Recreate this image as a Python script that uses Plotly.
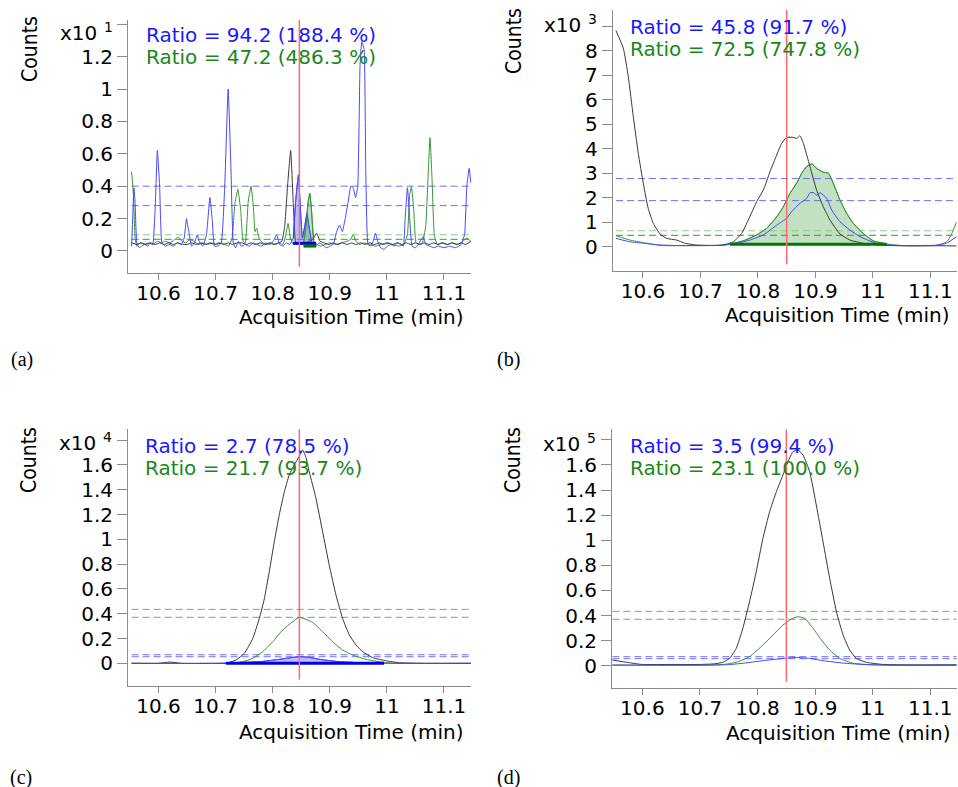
import plotly.graph_objects as go

W, H = 958, 787

# ---------------- data (time in min, counts in the panel's x10^n units) ----------------
# (a)  x10^1
a_black = [(10.553, 0.05), (10.562, 0.04), (10.570, 0.05), (10.578, 0.04), (10.586, 0.05), (10.594, 0.04),
           (10.602, 0.05), (10.610, 0.04), (10.618, 0.05), (10.626, 0.04), (10.634, 0.05), (10.642, 0.04),
           (10.650, 0.04), (10.658, 0.05), (10.666, 0.04), (10.674, 0.05), (10.682, 0.04), (10.690, 0.05),
           (10.698, 0.04), (10.706, 0.05), (10.714, 0.04), (10.722, 0.05), (10.730, 0.04), (10.738, 0.05),
           (10.746, 0.05), (10.754, 0.04), (10.762, 0.05), (10.770, 0.04), (10.778, 0.05), (10.786, 0.04),
           (10.794, 0.05), (10.802, 0.04), (10.810, 0.05), (10.816, 0.06), (10.821, 0.15), (10.826, 0.40),
           (10.8315, 0.62), (10.836, 0.30), (10.840, 0.06), (10.846, 0.04), (10.852, 0.05), (10.858, 0.05),
           (10.864, 0.06), (10.870, 0.07), (10.877, 0.11), (10.883, 0.06), (10.890, 0.05), (10.898, 0.04),
           (10.906, 0.05), (10.914, 0.04), (10.922, 0.05), (10.930, 0.04), (10.938, 0.05), (10.946, 0.04),
           (10.954, 0.05), (10.962, 0.04), (10.970, 0.05), (10.978, 0.04), (10.986, 0.05), (10.994, 0.04),
           (11.002, 0.05), (11.010, 0.04), (11.018, 0.05), (11.026, 0.04), (11.034, 0.05), (11.042, 0.04),
           (11.050, 0.05), (11.058, 0.04), (11.066, 0.05), (11.074, 0.04), (11.082, 0.05), (11.090, 0.04),
           (11.098, 0.05), (11.106, 0.04), (11.114, 0.05), (11.122, 0.04), (11.130, 0.05), (11.138, 0.04),
           (11.147, 0.06)]
a_blue = [(10.553, 0.03), (10.555, 0.22), (10.557, 0.39), (10.559, 0.30), (10.562, 0.05), (10.566, 0.02),
          (10.571, 0.03), (10.576, 0.04), (10.581, 0.03), (10.586, 0.05), (10.590, 0.04), (10.594, 0.25),
          (10.598, 0.62), (10.602, 0.40), (10.606, 0.05), (10.612, 0.03), (10.619, 0.04), (10.626, 0.03),
          (10.633, 0.05), (10.640, 0.04), (10.645, 0.08), (10.649, 0.20), (10.653, 0.12), (10.658, 0.03),
          (10.663, 0.05), (10.668, 0.10), (10.672, 0.05), (10.678, 0.03), (10.684, 0.10), (10.690, 0.33),
          (10.694, 0.20), (10.698, 0.03), (10.704, 0.03), (10.710, 0.05), (10.716, 0.40), (10.722, 1.00),
          (10.727, 0.50), (10.731, 0.05), (10.735, 0.02), (10.740, 0.06), (10.745, 0.03), (10.752, 0.04),
          (10.759, 0.03), (10.766, 0.05), (10.773, 0.04), (10.780, 0.03), (10.788, 0.05), (10.795, 0.04),
          (10.801, 0.06), (10.807, 0.10), (10.812, 0.04), (10.818, 0.03), (10.824, 0.05), (10.830, 0.04),
          (10.836, 0.08), (10.840, 0.30), (10.845, 0.47), (10.848, 0.30), (10.852, 0.08), (10.856, 0.15),
          (10.860, 0.23), (10.864, 0.14), (10.869, 0.05), (10.875, 0.03), (10.881, 0.05), (10.887, 0.04),
          (10.894, 0.02), (10.901, 0.03), (10.907, 0.05), (10.912, 0.12), (10.917, 0.16), (10.922, 0.12),
          (10.927, 0.20), (10.932, 0.30), (10.937, 0.40), (10.941, 0.39), (10.945, 0.33), (10.949, 0.40),
          (10.953, 1.15), (10.956, 1.29), (10.960, 1.25), (10.963, 0.50), (10.967, 0.04), (10.972, 0.03),
          (10.976, 0.06), (10.980, 0.11), (10.984, 0.06), (10.989, 0.02), (10.995, 0.01), (11.001, 0.03),
          (11.007, 0.04), (11.013, 0.03), (11.019, 0.05), (11.025, 0.04), (11.029, 0.03), (11.032, 0.20),
          (11.036, 0.39), (11.040, 0.20), (11.044, 0.03), (11.050, 0.02), (11.055, 0.04), (11.060, 0.07),
          (11.064, 0.09), (11.068, 0.04), (11.075, 0.03), (11.082, 0.02), (11.090, 0.03), (11.100, 0.02),
          (11.110, 0.03), (11.120, 0.02), (11.130, 0.04), (11.136, 0.10), (11.140, 0.40), (11.144, 0.51),
          (11.147, 0.42)]
a_green = [(10.553, 0.49), (10.556, 0.35), (10.559, 0.08), (10.562, 0.03), (10.568, 0.05), (10.575, 0.04),
           (10.582, 0.05), (10.590, 0.04), (10.598, 0.06), (10.605, 0.05), (10.612, 0.06), (10.620, 0.05),
           (10.628, 0.07), (10.635, 0.085), (10.641, 0.06), (10.648, 0.05), (10.655, 0.07), (10.662, 0.06),
           (10.670, 0.04), (10.678, 0.05), (10.686, 0.04), (10.694, 0.05), (10.702, 0.04), (10.710, 0.05),
           (10.717, 0.04), (10.723, 0.03), (10.729, 0.08), (10.734, 0.30), (10.739, 0.38), (10.744, 0.25),
           (10.748, 0.06), (10.752, 0.05), (10.757, 0.30), (10.762, 0.40), (10.766, 0.28), (10.769, 0.12),
           (10.772, 0.14), (10.776, 0.08), (10.782, 0.05), (10.790, 0.04), (10.798, 0.05), (10.805, 0.04),
           (10.812, 0.05), (10.818, 0.04), (10.823, 0.10), (10.827, 0.17), (10.831, 0.08), (10.836, 0.04),
           (10.842, 0.05), (10.848, 0.04), (10.854, 0.05), (10.858, 0.15), (10.862, 0.30), (10.865, 0.356),
           (10.868, 0.25), (10.872, 0.06), (10.877, 0.04), (10.884, 0.03), (10.892, 0.04), (10.900, 0.05),
           (10.910, 0.04), (10.920, 0.05), (10.930, 0.06), (10.936, 0.07), (10.941, 0.10), (10.946, 0.06),
           (10.952, 0.04), (10.960, 0.05), (10.970, 0.04), (10.980, 0.03), (10.990, 0.04), (11.000, 0.05),
           (11.010, 0.04), (11.020, 0.03), (11.030, 0.04), (11.036, 0.10), (11.040, 0.35), (11.043, 0.397),
           (11.047, 0.25), (11.051, 0.05), (11.056, 0.04), (11.062, 0.05), (11.068, 0.15), (11.072, 0.45),
           (11.0755, 0.70), (11.079, 0.45), (11.083, 0.10), (11.088, 0.04), (11.095, 0.05), (11.105, 0.04),
           (11.115, 0.05), (11.125, 0.04), (11.133, 0.06), (11.140, 0.08), (11.147, 0.06)]

# (b)  x10^3
b_black = [(10.553, 8.82), (10.5657, 8.10), (10.5744, 6.94), (10.5831, 5.31), (10.5918, 3.81), (10.6005, 2.59),
           (10.609, 1.57), (10.618, 0.95), (10.6296, 0.52), (10.641, 0.34), (10.6586, 0.27), (10.673, 0.14),
           (10.6934, 0.07), (10.717, 0.05), (10.7397, 0.07), (10.7571, 0.20), (10.7717, 0.54), (10.7832, 1.09),
           (10.7978, 1.84), (10.8093, 2.31), (10.821, 3.06), (10.8326, 3.74), (10.8413, 4.22), (10.850, 4.46),
           (10.8615, 4.46), (10.8674, 4.42), (10.8731, 4.53), (10.879, 4.22), (10.8905, 3.27), (10.902, 2.31),
           (10.9137, 1.63), (10.9253, 1.09), (10.9427, 0.52), (10.960, 0.27), (10.9833, 0.14), (11.0066, 0.07),
           (11.04, 0.04), (11.07, 0.03), (11.10, 0.04), (11.1458, 0.03)]
b_blue = [(10.553, 0.34), (10.5774, 0.20), (10.6005, 0.14), (10.6296, 0.07), (10.66, 0.05), (10.70, 0.05),
          (10.74, 0.06), (10.763, 0.14), (10.7861, 0.27), (10.8093, 0.48), (10.8326, 0.88), (10.850, 1.16),
          (10.8587, 1.43), (10.8731, 1.77), (10.8848, 1.97), (10.8905, 2.20), (10.8975, 2.20), (10.902, 2.10),
          (10.908, 2.20), (10.9196, 1.97), (10.9283, 1.50), (10.9427, 1.02), (10.960, 0.68), (10.9775, 0.41),
          (10.995, 0.23), (11.012, 0.10), (11.05, 0.05), (11.09, 0.05), (11.11, 0.06), (11.128, 0.14),
          (11.1458, 0.41)]
b_green = [(10.553, 0.45), (10.5774, 0.27), (10.6005, 0.17), (10.6296, 0.05), (10.66, 0.04), (10.70, 0.04),
           (10.73, 0.05), (10.7517, 0.11), (10.7745, 0.24), (10.7978, 0.48), (10.8152, 0.75), (10.8326, 1.22),
           (10.8441, 1.63), (10.8557, 2.18), (10.8674, 2.59), (10.8761, 3.00), (10.8848, 3.27), (10.8935, 3.38),
           (10.902, 3.20), (10.9137, 3.04), (10.9224, 3.00), (10.931, 2.59), (10.9427, 1.91), (10.9544, 1.36),
           (10.966, 0.95), (10.9833, 0.54), (11.0007, 0.24), (11.024, 0.11), (11.047, 0.05), (11.08, 0.04),
           (11.11, 0.05), (11.1284, 0.20), (11.137, 0.52), (11.1458, 1.02)]

# (c)  x10^4
c_black = [(10.553, 0.0), (10.60, 0.0), (10.62, 0.01), (10.64, 0.0), (10.70, 0.0), (10.718, 0.0),
           (10.7357, 0.027), (10.7503, 0.08), (10.765, 0.20), (10.7765, 0.36), (10.7853, 0.52), (10.794, 0.74),
           (10.8028, 0.98), (10.8116, 1.20), (10.8203, 1.38), (10.829, 1.52), (10.8378, 1.60), (10.8466, 1.67),
           (10.8525, 1.72), (10.8583, 1.66), (10.864, 1.545), (10.8758, 1.33), (10.8875, 1.06), (10.8991, 0.79),
           (10.9109, 0.55), (10.9226, 0.36), (10.9341, 0.23), (10.9459, 0.148), (10.9576, 0.094), (10.975, 0.046),
           (10.999, 0.02), (11.022, 0.005), (11.06, 0.0), (11.147, 0.0)]
c_blue = [(10.553, 0.0), (10.70, 0.0), (10.718, 0.003), (10.7765, 0.013), (10.8116, 0.032), (10.8466, 0.054),
          (10.864, 0.048), (10.882, 0.032), (10.917, 0.013), (10.9635, 0.003), (10.995, 0.0), (11.147, 0.0)]
c_green = [(10.553, 0.0), (10.72, 0.0), (10.7474, 0.013), (10.765, 0.04), (10.7825, 0.094), (10.80, 0.174),
           (10.8175, 0.268), (10.835, 0.335), (10.8466, 0.371), (10.8613, 0.349), (10.87, 0.33), (10.8875, 0.255),
           (10.905, 0.174), (10.9226, 0.107), (10.94, 0.067), (10.9635, 0.032), (10.993, 0.008), (11.02, 0.0),
           (11.147, 0.0)]

# (d)  x10^5
d_black = [(10.548, 0.045), (10.5774, 0.024), (10.60, 0.01), (10.65, 0.01), (10.70, 0.01), (10.725, 0.015),
           (10.7397, 0.027), (10.7513, 0.058), (10.763, 0.138), (10.7745, 0.298), (10.7861, 0.51), (10.7978, 0.75),
           (10.8093, 1.015), (10.821, 1.227), (10.8326, 1.386), (10.8441, 1.52), (10.8528, 1.625), (10.8615, 1.705),
           (10.8702, 1.719), (10.8789, 1.679), (10.8905, 1.546), (10.902, 1.28), (10.9137, 0.988), (10.9253, 0.696),
           (10.937, 0.43), (10.9485, 0.245), (10.96, 0.125), (10.9716, 0.058), (10.989, 0.027), (11.018, 0.01),
           (11.08, 0.005), (11.1458, 0.005)]
d_blue = [(10.548, 0.005), (10.72, 0.005), (10.7484, 0.008), (10.7774, 0.021), (10.8093, 0.04), (10.8441, 0.058),
          (10.8673, 0.066), (10.8905, 0.058), (10.9137, 0.04), (10.9485, 0.021), (10.983, 0.01), (11.02, 0.005),
          (11.1458, 0.005)]
d_green = [(10.548, 0.005), (10.70, 0.005), (10.7397, 0.01), (10.7628, 0.027), (10.7861, 0.072), (10.8093, 0.165),
           (10.8267, 0.245), (10.8441, 0.324), (10.8587, 0.372), (10.8702, 0.39), (10.8818, 0.378), (10.8963, 0.298),
           (10.9109, 0.205), (10.9253, 0.125), (10.9427, 0.058), (10.966, 0.02), (10.995, 0.008), (11.05, 0.005),
           (11.1458, 0.008)]

# expected-ratio tolerance limits (upper, lower)
a_blue_limits, a_green_limits = [0.40, 0.28], [0.10, 0.072]
b_blue_limits, b_green_limits = [2.78, 1.88], [0.65, 0.465]
c_blue_limits, c_green_limits = [0.069, 0.053], [0.435, 0.371]
d_blue_limits, d_green_limits = [0.072, 0.056], [0.433, 0.370]

# integrated peaks: (series, start, end, baseline)
a_integrations = [("blue", 10.836, 10.876, 0.047), ("green", 10.854, 10.876, 0.03)]
b_integrations = [("green", 10.7517, 11.024, 0.10)]
c_integrations = [("blue", 10.718, 10.995, 0.0)]
d_integrations = []

retention_times = {"a": 10.8467, "b": 10.850, "c": 10.8467, "d": 10.850}
ratio_texts = {
    "a": ("Ratio = 94.2 (188.4 %)", "Ratio = 47.2 (486.3 %)"),
    "b": ("Ratio = 45.8 (91.7 %)", "Ratio = 72.5 (747.8 %)"),
    "c": ("Ratio = 2.7 (78.5 %)", "Ratio = 21.7 (93.7 %)"),
    "d": ("Ratio = 3.5 (99.4 %)", "Ratio = 23.1 (100.0 %)"),
}
exponents = {"a": "1", "b": "3", "c": "4", "d": "5"}
x_ticks = [10.6, 10.7, 10.8, 10.9, 11.0, 11.1]
x_labels = ["10.6", "10.7", "10.8", "10.9", "11", "11.1"]
y_ticks = {
    "a": ([0, 0.2, 0.4, 0.6, 0.8, 1.0, 1.2, 1.4], ["0", "0.2", "0.4", "0.6", "0.8", "1", "1.2", ""]),
    "b": ([0, 1, 2, 3, 4, 5, 6, 7, 8, 9], ["0", "1", "2", "3", "4", "5", "6", "7", "8", ""]),
    "c": ([0, 0.2, 0.4, 0.6, 0.8, 1.0, 1.2, 1.4, 1.6, 1.8],
          ["0", "0.2", "0.4", "0.6", "0.8", "1", "1.2", "1.4", "1.6", ""]),
    "d": ([0, 0.2, 0.4, 0.6, 0.8, 1.0, 1.2, 1.4, 1.6, 1.8],
          ["0", "0.2", "0.4", "0.6", "0.8", "1", "1.2", "1.4", "1.6", ""]),
}

# ---------------- styling ----------------
FONT = "DejaVu Sans, Verdana, sans-serif"
NARROW = "Liberation Sans Narrow, Arial Narrow, DejaVu Sans Condensed, sans-serif"
SERIF = "Liberation Serif, DejaVu Serif, serif"
TXT = 20
AXIS_GRAY = "#8a8a8a"
COL = {"black": "rgb(55,55,55)", "blue": "rgb(70,70,255)", "green": "rgb(50,150,50)"}
FILL = {"blue": "rgba(60,60,255,0.33)", "green": "rgba(70,165,70,0.33)"}
EDGE = {"blue": "rgb(0,0,230)", "green": "rgb(0,120,0)"}
TEXT_BLUE, TEXT_GREEN = "rgb(25,25,255)", "rgb(25,135,25)"
RT_RED = "rgb(255,105,105)"

# panel geometry in pixels: x0, x1, y_top, y_bottom, x range, y range, spline smoothing
panels = {
    "a": dict(px=(128, 471), py=(20, 273), xr=(10.5466, 11.1473), yr=(-0.136, 1.426), smooth=0.35,
              data=(a_black, a_blue, a_green), lim=(a_blue_limits, a_green_limits), integ=a_integrations),
    "b": dict(px=(612.7, 956.7), py=(10, 270.7), xr=(10.5473, 11.1458), yr=(-0.98, 9.66), smooth=0.5,
              data=(b_black, b_blue, b_green), lim=(b_blue_limits, b_green_limits), integ=b_integrations),
    "c": dict(px=(128, 471), py=(429, 686), xr=(10.5466, 11.1473), yr=(-0.183, 1.89), smooth=0.5,
              data=(c_black, c_blue, c_green), lim=(c_blue_limits, c_green_limits), integ=c_integrations),
    "d": dict(px=(612, 956.7), py=(429.3, 688.3), xr=(10.5473, 11.1458), yr=(-0.18, 1.884), smooth=0.5,
              data=(d_black, d_blue, d_green), lim=(d_blue_limits, d_green_limits), integ=d_integrations),
}


def fx(px):
    return px / W


def fy(py):
    return 1 - py / H


fig = go.Figure()
layout = dict(width=W, height=H, margin=dict(l=0, r=0, t=0, b=0), paper_bgcolor="white",
              plot_bgcolor="white", showlegend=False, annotations=[])

for n, (key, p) in enumerate(panels.items(), start=1):
    sfx = "" if n == 1 else str(n)
    xa, ya = f"x{sfx}", f"y{sfx}"
    shape = dict(shape="spline", smoothing=p["smooth"])
    black, blue, green = p["data"]
    series = {"black": black, "blue": blue, "green": green}

    # integrated peak areas (drawn first so the traces sit on top)
    for name, t0, t1, base in p["integ"]:
        pts = [(t, v) for t, v in series[name] if t0 <= t <= t1]
        xs = [t for t, _ in pts] + [t1, t0]
        ys = [max(v, base) for _, v in pts] + [base, base]
        fig.add_trace(go.Scatter(x=xs, y=ys, xaxis=xa, yaxis=ya, mode="lines", fill="toself",
                                 fillcolor=FILL[name], line=dict(color=COL[name], width=1, **shape),
                                 hoverinfo="skip"))

    # tolerance limits
    t_first = min(series["black"][0][0], series["blue"][0][0])
    t_last = max(series["black"][-1][0], series["blue"][-1][0])
    blue_lim, green_lim = p["lim"]
    for lvl in blue_lim:
        fig.add_trace(go.Scatter(x=[t_first, t_last], y=[lvl, lvl], xaxis=xa, yaxis=ya, mode="lines",
                                 line=dict(color="rgb(110,110,255)", width=1, dash="7px,4px"), hoverinfo="skip"))
    green_cols = ["rgb(140,205,140)", "rgb(70,140,70)"] if key in ("a", "b") else ["rgb(100,180,100)"] * 2
    for lvl, gc in zip(green_lim, green_cols):
        fig.add_trace(go.Scatter(x=[t_first, t_last], y=[lvl, lvl], xaxis=xa, yaxis=ya, mode="lines",
                                 line=dict(color=gc, width=1, dash="7px,4px"), hoverinfo="skip"))

    # chromatogram traces
    for name in ("green", "black", "blue"):
        pts = series[name]
        fig.add_trace(go.Scatter(x=[t for t, _ in pts], y=[v for _, v in pts], xaxis=xa, yaxis=ya,
                                 mode="lines", line=dict(color=COL[name], width=1, **shape)))

    # integration baselines
    for name, t0, t1, base in p["integ"]:
        fig.add_trace(go.Scatter(x=[t0, t1], y=[base, base], xaxis=xa, yaxis=ya, mode="lines",
                                 line=dict(color=EDGE[name], width=3), hoverinfo="skip"))

    # retention-time marker, spanning the panel height (bar a small foot at the bottom)
    y_lo, y_hi = p["yr"]
    rt = retention_times[key]
    fig.add_trace(go.Scatter(x=[rt, rt], y=[y_lo + 0.025 * (y_hi - y_lo), y_hi], xaxis=xa, yaxis=ya,
                             mode="lines", line=dict(color=RT_RED, width=1.5), hoverinfo="skip"))

    (x0, x1), (ytop, ybot) = p["px"], p["py"]
    tv, tt = y_ticks[key]
    layout[f"xaxis{sfx}"] = dict(domain=[fx(x0), fx(x1)], range=list(p["xr"]), anchor=ya,
                                 tickvals=x_ticks, ticktext=x_labels, ticks="outside", ticklen=6,
                                 tickcolor=AXIS_GRAY, showline=True, linecolor=AXIS_GRAY, linewidth=1,
                                 showgrid=False, zeroline=False, ticklabelstandoff=-4,
                                 tickfont=dict(family=FONT, size=TXT, color="black"))
    layout[f"yaxis{sfx}"] = dict(domain=[fy(ybot), fy(ytop)], range=list(p["yr"]), anchor=xa,
                                 tickvals=tv, ticktext=tt, ticks="outside", ticklen=10,
                                 tickcolor=AXIS_GRAY, showline=True, linecolor=AXIS_GRAY, linewidth=1,
                                 showgrid=False, zeroline=False,
                                 tickfont=dict(family=FONT, size=TXT, color="black"))

    # texts
    ann = layout["annotations"]
    ratio_y = {"a": (35, 57), "b": (26.7, 49.3), "c": (446, 467.7), "d": (446, 468.3)}[key]
    ratio_x = {"a": 144, "b": 628.3, "c": 143.3, "d": 627.7}[key]
    for txt, yy, col in zip(ratio_texts[key], ratio_y, (TEXT_BLUE, TEXT_GREEN)):
        ann.append(dict(text=txt, xref="paper", yref="paper", x=fx(ratio_x), y=fy(yy), xanchor="left",
                        yanchor="middle", showarrow=False, font=dict(family=FONT, size=TXT, color=col)))
    x10_pos = {"a": (58, 33, 108, 26.7), "b": (542, 25, 592, 19), "c": (57, 443.3, 107.3, 437.3),
               "d": (541, 444, 591, 438.3)}[key]
    ann.append(dict(text="x10", xref="paper", yref="paper", x=fx(x10_pos[0]), y=fy(x10_pos[1]),
                    xanchor="left", yanchor="middle", showarrow=False,
                    font=dict(family=FONT, size=TXT, color="black")))
    ann.append(dict(text=exponents[key], xref="paper", yref="paper", x=fx(x10_pos[2]), y=fy(x10_pos[3]),
                    xanchor="center", yanchor="middle", showarrow=False,
                    font=dict(family=FONT, size=14, color="black")))
    counts_pos = {"a": (30, 49), "b": (514, 41), "c": (29, 460), "d": (513, 460)}[key]
    ann.append(dict(text="Counts", xref="paper", yref="paper", x=fx(counts_pos[0]), y=fy(counts_pos[1]),
                    xanchor="center", yanchor="middle", textangle=-90, showarrow=False,
                    font=dict(family=NARROW, size=21, color="black")))
    title_pos = {"a": (466, 317), "b": (952, 315), "c": (466, 732), "d": (953, 733)}[key]
    ann.append(dict(text="Acquisition Time (min)", xref="paper", yref="paper", x=fx(title_pos[0]),
                    y=fy(title_pos[1]), xanchor="right", yanchor="middle", showarrow=False,
                    font=dict(family=FONT, size=TXT, color="black")))
    label_pos = {"a": (22, 359), "b": (508, 359), "c": (21, 777), "d": (508, 777)}[key]
    ann.append(dict(text=f"({key})", xref="paper", yref="paper", x=fx(label_pos[0]), y=fy(label_pos[1]),
                    xanchor="center", yanchor="middle", showarrow=False,
                    font=dict(family=SERIF, size=20, color="black")))

fig.update_layout(**layout)
fig.write_html("out.html")
